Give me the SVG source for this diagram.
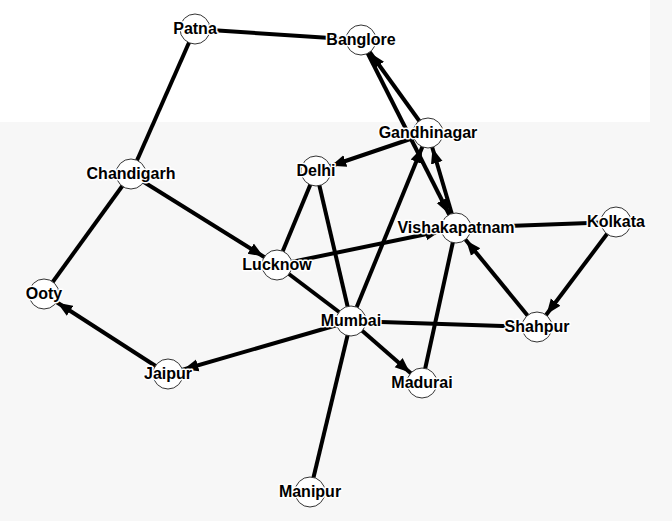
<svg xmlns="http://www.w3.org/2000/svg" width="672" height="521" viewBox="0 0 672 521">
<style>
.edge{stroke:#000;stroke-width:4;fill:none}
.arr{marker-end:url(#arrow)}
.node circle{fill:#fff;stroke:#333;stroke-width:1}
.node text{font-family:"Liberation Sans",Arial,sans-serif;font-size:16px;font-weight:bold;fill:#000;stroke:#fff;stroke-width:3;paint-order:stroke;stroke-linejoin:round;text-anchor:middle;dominant-baseline:central}
</style>
<defs>
<marker id="arrow" markerUnits="userSpaceOnUse" viewBox="0 -7 16 14" refX="31" refY="0" markerWidth="16" markerHeight="14" orient="auto">
<path d="M0,-6L15,0L0,6Z" fill="#000"/>
</marker>
</defs>
<rect x="0" y="0" width="672" height="521" fill="#f7f7f7"/>
<rect x="0" y="0" width="650" height="122" fill="#fff"/>
<g id="edges">
<line class="edge" x1="195" y1="29" x2="361" y2="40"/>
<line class="edge" x1="195" y1="29" x2="131" y2="174"/>
<line class="edge" x1="131" y1="174" x2="44" y2="294"/>
<line class="edge arr" x1="131" y1="174" x2="277" y2="265"/>
<line class="edge arr" x1="428" y1="133" x2="361" y2="40"/>
<line class="edge arr" x1="361" y1="40" x2="456" y2="228"/>
<line class="edge arr" x1="428" y1="133" x2="316" y2="171"/>
<line class="edge arr" x1="456" y1="228" x2="428" y2="133"/>
<line class="edge arr" x1="351" y1="321" x2="428" y2="133"/>
<line class="edge" x1="316" y1="171" x2="277" y2="265"/>
<line class="edge" x1="316" y1="171" x2="351" y2="321"/>
<line class="edge arr" x1="277" y1="265" x2="456" y2="228"/>
<line class="edge" x1="277" y1="265" x2="351" y2="321"/>
<line class="edge" x1="456" y1="228" x2="616" y2="222"/>
<line class="edge arr" x1="616" y1="222" x2="537" y2="327"/>
<line class="edge arr" x1="537" y1="327" x2="456" y2="228"/>
<line class="edge" x1="351" y1="321" x2="537" y2="327"/>
<line class="edge arr" x1="351" y1="321" x2="168" y2="374"/>
<line class="edge arr" x1="168" y1="374" x2="44" y2="294"/>
<line class="edge arr" x1="351" y1="321" x2="422" y2="383"/>
<line class="edge" x1="422" y1="383" x2="456" y2="228"/>
<line class="edge" x1="351" y1="321" x2="310" y2="492"/>
</g>
<g id="Patna" class="node"><circle cx="195" cy="29" r="15"/><text x="195" y="28">Patna</text></g>
<g id="Banglore" class="node"><circle cx="361" cy="40" r="15"/><text x="361" y="39">Banglore</text></g>
<g id="Gandhinagar" class="node"><circle cx="428" cy="133" r="15"/><text x="428" y="132">Gandhinagar</text></g>
<g id="Delhi" class="node"><circle cx="316" cy="171" r="15"/><text x="316" y="170">Delhi</text></g>
<g id="Chandigarh" class="node"><circle cx="131" cy="174" r="15"/><text x="131" y="173">Chandigarh</text></g>
<g id="Vishakapatnam" class="node"><circle cx="456" cy="228" r="15"/><text x="456" y="227">Vishakapatnam</text></g>
<g id="Kolkata" class="node"><circle cx="616" cy="222" r="15"/><text x="616" y="221">Kolkata</text></g>
<g id="Lucknow" class="node"><circle cx="277" cy="265" r="15"/><text x="277" y="264">Lucknow</text></g>
<g id="Ooty" class="node"><circle cx="44" cy="294" r="15"/><text x="44" y="293">Ooty</text></g>
<g id="Mumbai" class="node"><circle cx="351" cy="321" r="15"/><text x="351" y="320">Mumbai</text></g>
<g id="Shahpur" class="node"><circle cx="537" cy="327" r="15"/><text x="537" y="326">Shahpur</text></g>
<g id="Jaipur" class="node"><circle cx="168" cy="374" r="15"/><text x="168" y="373">Jaipur</text></g>
<g id="Madurai" class="node"><circle cx="422" cy="383" r="15"/><text x="422" y="382">Madurai</text></g>
<g id="Manipur" class="node"><circle cx="310" cy="492" r="15"/><text x="310" y="491">Manipur</text></g>
</svg>
